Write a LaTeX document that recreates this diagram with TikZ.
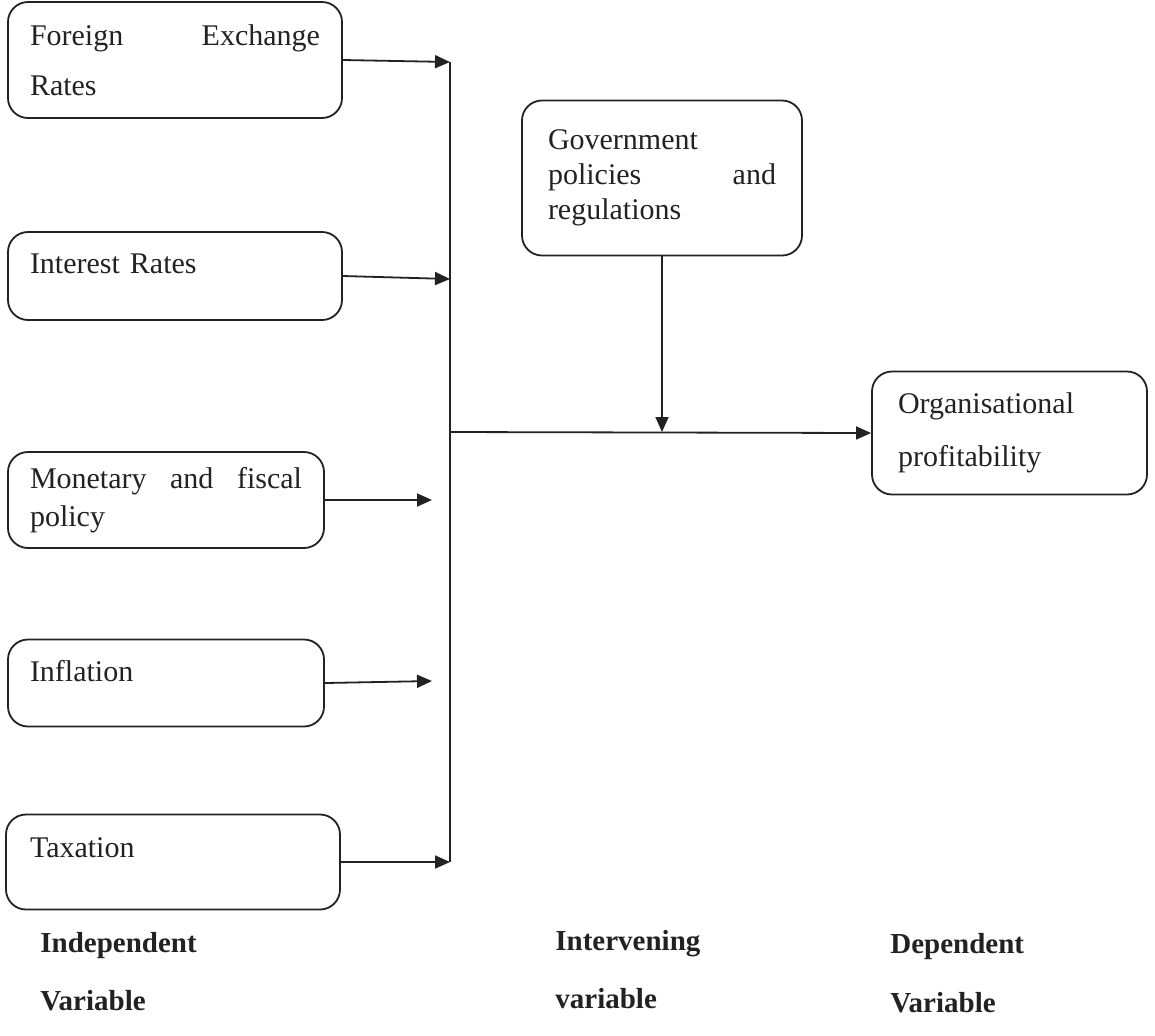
\documentclass[tikz,border=0pt]{standalone}
\usepackage{fontspec}
\setmainfont{Liberation Serif}
\usetikzlibrary{arrows.meta}
\definecolor{ink}{HTML}{222222}
\begin{document}
\begin{tikzpicture}[x=0.5pt,y=-0.5pt,
  box/.style={draw=ink,line width=0.9pt,rounded corners=10pt,inner xsep=11pt,inner ysep=0pt,
    align=left,font=\fontsize{15}{25}\selectfont,text=ink},
  conn/.style={draw=ink,line width=0.9pt},
  arr/.style={conn,-{Triangle[length=7.5pt,width=6.5pt]}},
  lab/.style={font=\fontsize{14.5}{18}\selectfont\bfseries,text=ink,anchor=base west,inner sep=0pt}]
\useasboundingbox (0,0) rectangle (1155,1035);
% independent variables
\node[box,minimum width=167pt,minimum height=58pt,text width=145pt] (fx) at (175,60)
  {Foreign\hfill Exchange\\Rates};
\node[box,minimum width=167pt,minimum height=44pt,text width=145pt,text depth=12pt] (ir) at (175,276)
  {Interest Rates};
\node[box,minimum width=158pt,minimum height=48pt,text width=136pt,
  font=\fontsize{15}{19}\selectfont] (mf) at (166,500)
  {Monetary\hfill and\hfill fiscal\\policy};
\node[box,minimum width=158pt,minimum height=43.5pt,text width=136pt,text depth=12pt] (inf) at (166,683)
  {Inflation};
\node[box,minimum width=167pt,minimum height=47.5pt,inner xsep=12pt,text width=143pt,text depth=14pt] (tax) at (173,862)
  {Taxation};
% intervening
\node[box,minimum width=140pt,minimum height=77.5pt,inner xsep=13pt,text width=114pt,
  font=\fontsize{15}{17.5}\selectfont] (gov) at (662,178)
  {Government\\policies\hfill and\\regulations};
% dependent
\node[box,minimum width=137.5pt,minimum height=61.5pt,inner xsep=13pt,text width=111.5pt,
  font=\fontsize{15}{26.5}\selectfont] (org) at (1009.5,433)
  {Organisational\\profitability};
% junction line
\coordinate (top) at (450,62);
\coordinate (bot) at (450,862);
\coordinate (mid) at (450,432);
\coordinate (gj) at (662,432);
\coordinate (e3) at (432,500);
\coordinate (e4) at (432,681);
\coordinate (e2) at (450,279);
\draw[conn] (top) -- (bot);
\draw[arr] (fx.east) -- (top);
\draw[arr] (ir.east) -- (e2);
\draw[arr] (mf.east) -- (e3);
\draw[arr] (inf.east) -- (e4);
\draw[arr] (tax.east) -- (bot);
\draw[arr] (mid) -- (org.west);
\draw[arr] (gov.south) -- (gj);
% labels
\node[lab] (l1) at (40,952) {Independent};
\node[lab] (l2) at (40,1010) {Variable};
\node[lab] (l3) at (555,950) {Intervening};
\node[lab] (l4) at (555,1008) {variable};
\node[lab] (l5) at (890,953) {Dependent};
\node[lab] (l6) at (890,1012) {Variable};
\end{tikzpicture}
\end{document}
